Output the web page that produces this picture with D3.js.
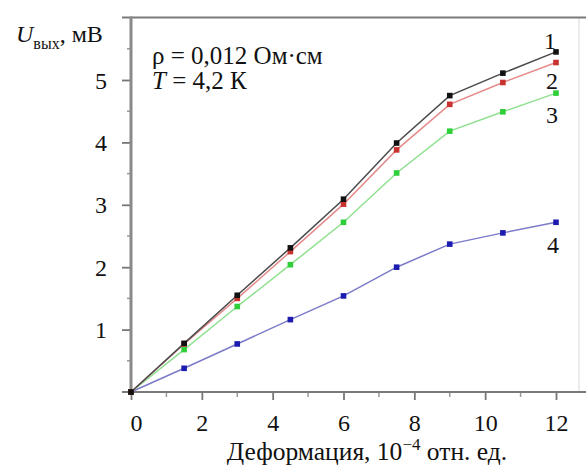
<!DOCTYPE html>
<html><head><meta charset="utf-8">
<script src="https://cdn.jsdelivr.net/npm/d3@7"></script>
</head><body style="margin:0;background:#fff"><svg id="c" width="586" height="466" style="display:block"></svg>
<script>
const strain = [0, 1.5, 3, 4.5, 6, 7.5, 9, 10.5, 12];
const curve1 = [0, 0.78, 1.55, 2.31, 3.09, 3.99, 4.75, 5.11, 5.45];
const curve2 = [0, 0.77, 1.50, 2.25, 3.01, 3.88, 4.61, 4.96, 5.28];
const curve3 = [0, 0.68, 1.37, 2.04, 2.72, 3.51, 4.18, 4.49, 4.79];
const curve4 = [0, 0.38, 0.77, 1.16, 1.54, 2.00, 2.37, 2.55, 2.72];
const seriesNames = ["1", "2", "3", "4"];
const xTicks = [0, 2, 4, 6, 8, 10, 12];
const yTicks = [1, 2, 3, 4, 5];

const FONT = "Liberation Serif";
const series = [
  {name: seriesNames[0], vals: curve1, line: "#4a4a4a", mark: "#111", lx: 550, ly: 49},
  {name: seriesNames[1], vals: curve2, line: "#e58a8a", mark: "#c8322f", lx: 552, ly: 89},
  {name: seriesNames[2], vals: curve3, line: "#8fe08f", mark: "#2fcf3a", lx: 552, ly: 123},
  {name: seriesNames[3], vals: curve4, line: "#7b7bc8", mark: "#1c1cb0", lx: 553, ly: 253}
];

const svg = d3.select("#c");
const x = d3.scaleLinear().domain([0, 12]).range([131, 556]);
const y = d3.scaleLinear().domain([0, 6]).range([392, 17.6]);

svg.append("line").attr("x1", 579).attr("x2", 579).attr("y1", 18).attr("y2", 392)
  .attr("stroke", "#e6e6e6").attr("stroke-width", 1.5);
svg.append("line").attr("x1", 122).attr("x2", 586).attr("y1", 17.5).attr("y2", 17.5)
  .attr("stroke", "#7a7a7a").attr("stroke-width", 2.2);

const yAxis = d3.axisLeft(y).tickValues(yTicks).tickSize(9).tickPadding(15).tickFormat(d3.format("d"));
const gy = svg.append("g").attr("transform", "translate(131,0)").call(yAxis);
gy.attr("font-family", FONT);
gy.select(".domain").remove();
gy.selectAll(".tick line").attr("stroke", "#777").attr("stroke-width", 1.8);
gy.selectAll(".tick text").style("font-family", FONT).style("font-size", "24px").attr("fill", "#111").attr("dy", "0.34em");
const yMinor = d3.range(0.5, 6, 1);
svg.append("g").selectAll("line").data(yMinor).join("line")
  .attr("x1", 127).attr("x2", 131).attr("y1", d => y(d)).attr("y2", d => y(d))
  .attr("stroke", "#999").attr("stroke-width", 1.5);
svg.append("line").attr("x1", 131).attr("x2", 131).attr("y1", 16.5).attr("y2", 394)
  .attr("stroke", "#8a8a8a").attr("stroke-width", 3);

const xAxis = d3.axisBottom(x).tickValues(xTicks).tickSize(8).tickPadding(14).tickFormat(d3.format("d"));
const gx = svg.append("g").attr("transform", "translate(0,392)").call(xAxis);
gx.attr("font-family", FONT);
gx.select(".domain").remove();
gx.selectAll(".tick line").attr("stroke", "#777").attr("stroke-width", 1.8);
gx.selectAll(".tick text").style("font-family", FONT).style("font-size", "24px").attr("fill", "#111")
  .attr("dx", d => d === 0 ? 5 : 0);
const xMinor = d3.range(1, 13, 2);
svg.append("g").selectAll("line").data(xMinor).join("line")
  .attr("x1", d => x(d)).attr("x2", d => x(d)).attr("y1", 392).attr("y2", 397)
  .attr("stroke", "#999").attr("stroke-width", 1.5);
svg.append("line").attr("x1", 122).attr("x2", 586).attr("y1", 392).attr("y2", 392)
  .attr("stroke", "#7a7a7a").attr("stroke-width", 2.2);

const lineGen = d3.line().x((d, i) => x(strain[i])).y(d => y(d));
series.slice().reverse().forEach(s => {
  svg.append("path").attr("d", lineGen(s.vals)).attr("fill", "none")
    .attr("stroke", s.line).attr("stroke-width", 1.5);
});
series.slice().reverse().forEach(s => {
  svg.append("g").selectAll("rect").data(s.vals).join("rect")
    .attr("x", (d, i) => x(strain[i]) - 2.8).attr("y", d => y(d) - 2.8)
    .attr("width", 5.6).attr("height", 5.6).attr("fill", s.mark);
  svg.append("text").attr("x", s.lx).attr("y", s.ly).attr("text-anchor", "middle")
    .style("font-family", FONT).style("font-size", "24px").attr("fill", "#111").text(s.name);
});

const yl = svg.append("text").attr("x", 16).attr("y", 42).style("font-family", FONT).style("font-size", "24px").attr("fill", "#111");
yl.append("tspan").style("font-style", "italic").text("U");
yl.append("tspan").style("font-size", "16px").attr("dy", 7).text("вых");
yl.append("tspan").attr("dy", -7).text(", мВ");

svg.append("text").attr("x", 152).attr("y", 64).style("font-family", FONT).style("font-size", "25px").attr("fill", "#111").text("ρ = 0,012 Ом·см");
const t2 = svg.append("text").attr("x", 152).attr("y", 89).style("font-family", FONT).style("font-size", "25px").attr("fill", "#111");
t2.append("tspan").style("font-style", "italic").text("T");
t2.append("tspan").text(" = 4,2 К");

const xl = svg.append("text").attr("x", 367).attr("y", 460).attr("text-anchor", "middle")
  .style("font-family", FONT).style("font-size", "25.5px").attr("fill", "#111");
xl.append("tspan").text("Деформация, 10");
xl.append("tspan").style("font-size", "17px").attr("dy", -10).text("−4");
xl.append("tspan").attr("dy", 10).text(" отн. ед.");
</script></body></html>
